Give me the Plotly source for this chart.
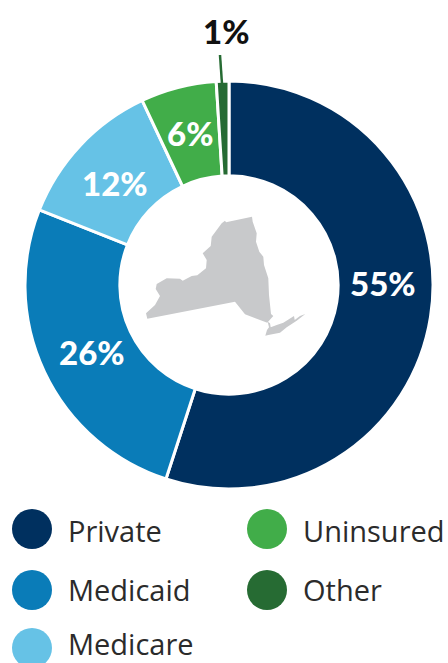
import plotly.graph_objects as go

categories = ["Private", "Medicaid", "Medicare", "Uninsured", "Other"]
values = [55, 26, 12, 6, 1]
colors = ["#00305f", "#0a7cb8", "#66c2e6", "#41ad49", "#266b33"]

W, H = 448, 663
FONT = "Lato"
LEGEND_FONT = "Open Sans"

# layout helpers (pixels)
legend_x = [32, 32, 32, 267, 267]
legend_y = [529, 590, 648, 529, 590]
legend_text_y = [530, 589, 643.5, 530, 589]
label_x = [383, 92, 115, 190, 226]
label_y = [283, 352, 183, 133, 31]
label_color = ["white", "white", "white", "white", "#111111"]
cx, cy, R = 229, 285, 204


def px(x):
    return x / W


def py(y):
    return 1 - y / H


fig = go.Figure()
fig.add_trace(go.Pie(
    labels=categories, values=values, sort=False, direction="clockwise", rotation=0,
    hole=0.535, marker=dict(colors=colors, line=dict(color="white", width=3)),
    textinfo="none",
    domain=dict(x=[px(cx - R), px(cx + R)], y=[py(cy + R), py(cy - R)]),
    showlegend=False, hoverinfo="label+percent",
))
fig.add_trace(go.Scatter(
    x=legend_x, y=legend_y, mode="markers",
    marker=dict(size=40, color=colors, line=dict(width=0)),
    showlegend=False, hoverinfo="skip",
))

# New York State silhouette, traced in zoom-crop units
ny_main = [(318, 97), (396, 80), (398, 95), (410, 130), (408, 155), (418, 185), (430, 200), (432, 225),
           (445, 265), (447, 315), (453, 372), (460, 378), (447, 392), (442, 398), (375, 373), (345, 335),
           (82, 386), (78, 370), (105, 345), (120, 318), (107, 297), (110, 282), (140, 265), (180, 266),
           (188, 272), (215, 258), (232, 256), (258, 235), (260, 210), (248, 190), (272, 168), (275, 140),
           (305, 100), (315, 92)]
ny_isle = [(443, 395), (450, 400), (452, 412), (470, 405), (490, 398), (522, 378), (524, 390), (540, 378),
           (556, 372), (530, 392), (500, 412), (480, 428), (445, 435), (436, 437), (441, 420), (447, 412)]


def path(pts):
    return "M " + " L ".join(f"{120 + a / 3:.1f},{190 + b / 3:.1f}" for a, b in pts) + " Z"


shapes = [
    dict(type="path", xref="x", yref="y", path=path(ny_main), fillcolor="#c8c9cb", line=dict(width=0), layer="above"),
    dict(type="path", xref="x", yref="y", path=path(ny_isle), fillcolor="#c8c9cb", line=dict(width=0), layer="above"),
    dict(type="line", xref="x", yref="y", x0=220, y0=55, x1=222, y1=84, line=dict(color="#266b33", width=2.5), layer="above"),
]

annotations = []
for v, lx, ly, c in zip(values, label_x, label_y, label_color):
    annotations.append(dict(x=lx, y=ly, xref="x", yref="y", text=f"{v}%", showarrow=False,
                            font=dict(family=FONT, size=33, color=c, weight=900)))
for name, lx, ly in zip(categories, legend_x, legend_text_y):
    annotations.append(dict(x=lx + 34, y=ly, xref="x", yref="y", text=name, showarrow=False,
                            xanchor="left", yanchor="middle",
                            font=dict(family=LEGEND_FONT, size=29, color="#2b2b2b")))

fig.update_layout(
    width=W, height=H, margin=dict(l=0, r=0, t=0, b=0),
    paper_bgcolor="white", plot_bgcolor="rgba(0,0,0,0)",
    xaxis=dict(range=[0, W], visible=False, fixedrange=True),
    yaxis=dict(range=[H, 0], visible=False, fixedrange=True),
    shapes=shapes, annotations=annotations,
)
fig.write_html("out.html", config={"displayModeBar": False},
               post_script="document.body.style.margin='0';document.body.style.overflow='hidden';")
